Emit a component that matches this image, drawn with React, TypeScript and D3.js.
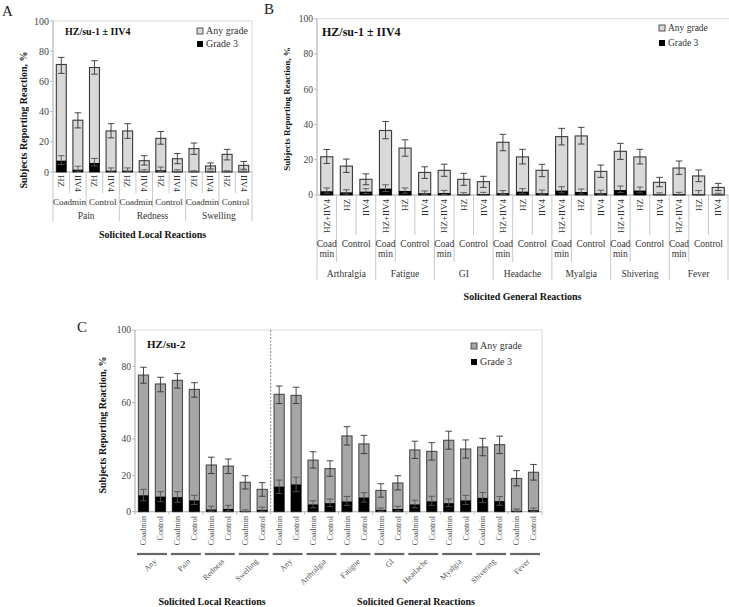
import React from "react";
import * as d3 from "d3";

const FONT = "Liberation Serif, Times New Roman, DejaVu Serif, serif";

// ---------- Panel A data (HZ/su-1 ± IIV4, local) ----------
const aCategories = ["Pain", "Redness", "Swelling"];
const aGroups = ["Coadmin", "Control"];
const aVaccines = ["HZ", "IIV4"];
const aAny = [71.2, 34.3, 69.2, 27.2, 27.2, 7.5, 22.3, 8.8, 15.5, 4.0, 11.7, 4.4];
const aAnyLo = [65.3, 29.2, 64.8, 22.6, 22.3, 4.6, 18.4, 5.5, 11.7, 2.0, 8.0, 1.8];
const aAnyHi = [75.9, 39.2, 73.7, 32.0, 32.0, 10.8, 26.8, 12.2, 19.2, 6.0, 15.0, 7.0];
const aG3 = [7.5, 1.5, 6.0, 0.9, 0.9, 0.3, 1.1, 0.3, 0.2, 0.1, 0.2, 0.1];
const aG3Lo = [5.0, 0.5, 4.0, 0.2, 0.2, 0.0, 0.3, 0.0, 0.0, 0.0, 0.0, 0.0];
const aG3Hi = [10.8, 3.8, 9.0, 2.7, 2.7, 1.5, 3.3, 1.5, 0.8, 0.6, 0.8, 0.6];

// ---------- Panel B data (HZ/su-1 ± IIV4, general) ----------
const bCategories = ["Arthralgia", "Fatigue", "GI", "Headache", "Myalgia", "Shivering", "Fever"];
const bVaccines = ["HZ+IIV4", "HZ", "IIV4"];
const bAny = [21.7, 16.4, 8.9, 36.6, 26.6, 12.8, 14.0, 8.9, 7.6, 29.9, 21.6, 14.0, 33.1, 33.5, 13.4, 24.8, 21.6, 7.2, 15.3, 10.8, 4.3];
const bAnyLo = [17.9, 12.8, 5.8, 31.9, 22.0, 9.4, 10.6, 5.5, 4.3, 25.1, 17.6, 10.4, 28.4, 28.9, 10.0, 20.2, 17.6, 4.7, 11.7, 7.6, 2.5];
const bAnyHi = [25.8, 20.4, 12.0, 41.7, 31.3, 16.0, 17.5, 12.3, 10.6, 34.4, 25.9, 17.4, 37.8, 38.4, 17.0, 29.3, 25.9, 10.0, 19.3, 14.2, 6.6];
const bG3 = [2.1, 1.5, 1.9, 3.6, 2.3, 1.0, 1.1, 0.3, 0.5, 1.0, 1.9, 1.0, 2.5, 1.7, 1.0, 2.8, 2.5, 0.3, 0.5, 0.3, 0.2];
const bG3Lo = [1.0, 0.5, 0.8, 2.0, 1.0, 0.2, 0.3, 0.0, 0.0, 0.2, 0.8, 0.2, 1.2, 0.6, 0.2, 1.4, 1.2, 0.0, 0.0, 0.0, 0.0];
const bG3Hi = [4.0, 3.0, 3.6, 5.8, 4.0, 2.3, 2.6, 1.3, 1.5, 2.5, 3.6, 2.8, 4.7, 3.4, 2.7, 5.1, 4.5, 1.2, 1.5, 2.5, 1.0];

// ---------- Panel C data (HZ/su-2) ----------
const cLocalCategories = ["Any", "Pain", "Redness", "Swelling"];
const cGeneralCategories = ["Any", "Arthralgia", "Fatigue", "GI", "Headache", "Myalgia", "Shivering", "Fever"];
const cGroups = ["Coadmin", "Control"];
const cAny = [75.2, 70.3, 72.3, 67.3, 25.7, 25.1, 16.2, 12.3, 64.6, 64.0, 28.4, 23.7, 41.7, 37.3, 11.7, 15.8, 34.0, 33.2, 39.3, 34.5, 35.6, 36.9, 18.3, 21.7];
const cAnyLo = [70.7, 66.0, 68.0, 63.0, 21.0, 21.0, 12.5, 8.5, 59.5, 59.5, 24.0, 19.5, 36.7, 32.0, 8.0, 12.0, 29.3, 28.4, 34.4, 29.5, 30.8, 32.0, 14.2, 17.4];
const cAnyHi = [79.5, 74.0, 76.0, 71.0, 30.0, 29.0, 19.8, 16.0, 69.2, 68.5, 33.0, 28.0, 46.8, 42.0, 15.4, 19.8, 38.8, 38.0, 44.3, 39.5, 40.4, 41.6, 22.6, 26.0];
const cG3 = [9.0, 8.3, 8.0, 6.2, 1.2, 1.5, 0.3, 1.0, 13.8, 15.0, 4.0, 4.7, 5.6, 7.8, 1.0, 1.5, 4.0, 5.7, 4.7, 6.2, 7.6, 5.8, 0.5, 0.8];
const cG3Lo = [6.0, 5.5, 5.2, 4.0, 0.3, 0.4, 0.0, 0.2, 10.0, 11.0, 2.2, 2.8, 3.5, 5.3, 0.2, 0.4, 2.2, 3.5, 2.8, 4.0, 5.0, 3.6, 0.0, 0.0];
const cG3Hi = [12.3, 11.0, 11.0, 9.0, 3.0, 3.5, 1.0, 2.5, 17.4, 19.0, 6.0, 7.0, 8.4, 10.5, 2.0, 3.0, 6.3, 8.5, 7.0, 9.0, 10.6, 8.3, 1.5, 2.0];

const yTicks = [0, 20, 40, 60, 80, 100];

type BarsProps = {
  x: d3.ScaleBand<number>;
  y: d3.ScaleLinear<number, number>;
  any: number[];
  anyLo: number[];
  anyHi: number[];
  g3: number[];
  g3Lo: number[];
  g3Hi: number[];
  fill: string;
  stroke: string;
};

function Bars({ x, y, any, anyLo, anyHi, g3, g3Lo, g3Hi, fill, stroke }: BarsProps) {
  const bw = x.bandwidth();
  const cap = 3.3;
  return (
    <g>
      {any.map((v, i) => {
        const x0 = x(i)!;
        const cx = x0 + bw / 2;
        return (
          <g key={i}>
            <rect x={x0} y={y(v)} width={bw} height={y(0) - y(v)} fill={fill} stroke={stroke} strokeWidth={1.1} />
            <rect x={x0} y={y(g3[i])} width={bw} height={y(0) - y(g3[i])} fill="#000" />
            <g stroke="#333" strokeWidth={0.9}>
              <line x1={cx} x2={cx} y1={y(anyHi[i])} y2={y(anyLo[i])} />
              <line x1={cx - cap} x2={cx + cap} y1={y(anyHi[i])} y2={y(anyHi[i])} />
              <line x1={cx - cap} x2={cx + cap} y1={y(anyLo[i])} y2={y(anyLo[i])} />
            </g>
            <g stroke="#555" strokeWidth={0.9}>
              <line x1={cx} x2={cx} y1={y(g3Hi[i])} y2={y(g3Lo[i])} />
              <line x1={cx - cap} x2={cx + cap} y1={y(g3Hi[i])} y2={y(g3Hi[i])} />
              <line x1={cx - cap} x2={cx + cap} y1={y(g3Lo[i])} y2={y(g3Lo[i])} />
            </g>
          </g>
        );
      })}
    </g>
  );
}

function YAxis({ y, x0, fontSize }: { y: d3.ScaleLinear<number, number>; x0: number; fontSize: number }) {
  return (
    <g>
      <line x1={x0} x2={x0} y1={y(100)} y2={y(0)} stroke="#bbb" strokeWidth={1} />
      {yTicks.map((t) => (
        <g key={t}>
          <line x1={x0 - 3} x2={x0} y1={y(t)} y2={y(t)} stroke="#bbb" />
          <text x={x0 - 4} y={y(t)} dy="0.35em" textAnchor="end" fontSize={fontSize} fill="#444">
            {t}
          </text>
        </g>
      ))}
    </g>
  );
}

function Legend({ x, y1, y2, anyFill, fontSize }: { x: number; y1: number; y2: number; anyFill: string; fontSize: number }) {
  return (
    <g fontSize={fontSize} fill="#333">
      <rect x={x} y={y1 - 6} width={6} height={6} fill={anyFill} stroke="#444" strokeWidth={0.9} />
      <text x={x + 9} y={y1}>Any grade</text>
      <rect x={x} y={y2 - 6} width={6} height={6} fill="#000" />
      <text x={x + 9} y={y2}>Grade 3</text>
    </g>
  );
}

function PanelA() {
  const left = 53, right = 252, top = 21, bottom = 172;
  const x = d3.scaleBand<number>().domain(d3.range(aAny.length)).range([left, right]).paddingInner(0.4).paddingOuter(0.2);
  const y = d3.scaleLinear().domain([0, 100]).range([bottom, top]);
  const step = x.step();
  const nPerCat = aGroups.length * aVaccines.length;
  const bounds = d3.range(aAny.length + 1);
  return (
    <g>
      <rect x={left} y={top} width={right - left} height={bottom - top} fill="none" stroke="#d9d9d9" />
      <line x1={left} x2={right} y1={bottom} y2={bottom} stroke="#bbb" />
      <YAxis y={y} x0={left} fontSize={10} />
      <text x={65} y={35} fontWeight="bold" fontSize={10} fill="#111">HZ/su-1 ± IIV4</text>
      <Legend x={197} y1={34} y2={47} anyFill="#d9d9d9" fontSize={10} />
      <Bars x={x} y={y} any={aAny} anyLo={aAnyLo} anyHi={aAnyHi} g3={aG3} g3Lo={aG3Lo} g3Hi={aG3Hi} fill="#d9d9d9" stroke="#3a3a3a" />
      {bounds.map((i) => {
        const bx = left + i * step;
        const y2 = i % nPerCat === 0 ? 221 : i % aVaccines.length === 0 ? 207 : 193;
        return <line key={i} x1={bx} x2={bx} y1={bottom} y2={y2} stroke="#c8c8c8" />;
      })}
      {aAny.map((_, i) => {
        const cx = x(i)! + x.bandwidth() / 2;
        return (
          <text key={i} transform={`translate(${cx},175) rotate(90)`} dy="0.35em" fontSize={9} fill="#333">
            {aVaccines[i % aVaccines.length]}
          </text>
        );
      })}
      {d3.range(aCategories.length * aGroups.length).map((g) => {
        const cx = left + (g * 2 + 1) * step;
        return (
          <text key={g} x={cx} y={205} textAnchor="middle" fontSize={9} fill="#333">
            {aGroups[g % aGroups.length]}
          </text>
        );
      })}
      {aCategories.map((c, k) => (
        <text key={c} x={left + (k * nPerCat + nPerCat / 2) * step} y={218.5} textAnchor="middle" fontSize={9.5} fill="#333">
          {c}
        </text>
      ))}
      <text x={(left + right) / 2} y={238} textAnchor="middle" fontWeight="bold" fontSize={10} fill="#111">
        Solicited Local Reactions
      </text>
      <text transform={`translate(27,120) rotate(-90)`} textAnchor="middle" fontWeight="bold" fontSize={10} fill="#111">
        Subjects Reporting Reaction, %
      </text>
      <text x={2} y={16} fontSize={15} fill="#222">A</text>
    </g>
  );
}

function PanelB() {
  const left = 317, right = 728, top = 18.7, bottom = 195;
  const x = d3.scaleBand<number>().domain(d3.range(bAny.length)).range([left, right]).paddingInner(0.38).paddingOuter(0.19);
  const y = d3.scaleLinear().domain([0, 100]).range([bottom, top]);
  const step = x.step();
  const n = bVaccines.length;
  return (
    <g>
      <rect x={left} y={top} width={right - left + 5} height={bottom - top} fill="none" stroke="#d9d9d9" />
      <line x1={left} x2={right} y1={bottom} y2={bottom} stroke="#bbb" />
      <YAxis y={y} x0={left} fontSize={9.5} />
      <text x={322} y={36} fontWeight="bold" fontSize={12} fill="#111">HZ/su-1 ± IIV4</text>
      <Legend x={659} y1={31} y2={46} anyFill="#d9d9d9" fontSize={9.5} />
      <Bars x={x} y={y} any={bAny} anyLo={bAnyLo} anyHi={bAnyHi} g3={bG3} g3Lo={bG3Lo} g3Hi={bG3Hi} fill="#d9d9d9" stroke="#3a3a3a" />
      {d3.range(bAny.length + 1).map((i) => {
        const bx = left + i * step;
        const y2 = i % n === 0 ? 280 : i % n === 1 ? 262 : 235;
        return <line key={i} x1={bx} x2={bx} y1={bottom} y2={y2} stroke="#c8c8c8" />;
      })}
      {bAny.map((_, i) => {
        const cx = x(i)! + x.bandwidth() / 2;
        return (
          <text key={i} transform={`translate(${cx},199) rotate(-90)`} dy="0.35em" textAnchor="end" fontSize={9} fill="#333">
            {bVaccines[i % n]}
          </text>
        );
      })}
      {bCategories.map((c, k) => {
        const coX = left + (k * n + 0.5) * step;
        const ctX = left + (k * n + 2) * step;
        return (
          <g key={c} fontSize={9.5} fill="#333" textAnchor="middle">
            <text x={coX} y={247}>Coad</text>
            <text x={coX} y={257}>min</text>
            <text x={ctX} y={247}>Control</text>
            <text x={left + (k * n + n / 2) * step} y={277}>{c}</text>
          </g>
        );
      })}
      <text x={(left + right) / 2} y={300} textAnchor="middle" fontWeight="bold" fontSize={10} fill="#111">
        Solicited General Reactions
      </text>
      <text transform={`translate(290,109) rotate(-90)`} textAnchor="middle" fontWeight="bold" fontSize={9} fill="#111">
        Subjects Reporting Reaction, %
      </text>
      <text x={264} y={14} fontSize={15} fill="#222">B</text>
    </g>
  );
}

function PanelC() {
  const left = 135, right = 542, top = 330, bottom = 511.7;
  const x = d3.scaleBand<number>().domain(d3.range(cAny.length)).range([left, right]).paddingInner(0.4).paddingOuter(0.2);
  const y = d3.scaleLinear().domain([0, 100]).range([bottom, top]);
  const step = x.step();
  const cats = [...cLocalCategories, ...cGeneralCategories];
  const divX = left + cLocalCategories.length * 2 * step;
  return (
    <g>
      <rect x={left} y={top} width={right - left} height={bottom - top} fill="none" stroke="#d9d9d9" />
      <line x1={left} x2={right} y1={bottom} y2={bottom} stroke="#bbb" />
      {d3.range(cats.length + 1).map((k) => (
        <line key={k} x1={left + k * 2 * step} x2={left + k * 2 * step} y1={bottom} y2={bottom + 3} stroke="#bbb" />
      ))}
      <YAxis y={y} x0={left} fontSize={9.5} />
      <line x1={divX} x2={divX} y1={top} y2={bottom} stroke="#888" strokeDasharray="2,1.5" />
      <text x={147} y={348} fontWeight="bold" fontSize={11} fill="#111">HZ/su-2</text>
      <Legend x={471} y1={349} y2={365} anyFill="#a6a6a6" fontSize={10} />
      <Bars x={x} y={y} any={cAny} anyLo={cAnyLo} anyHi={cAnyHi} g3={cG3} g3Lo={cG3Lo} g3Hi={cG3Hi} fill="#a6a6a6" stroke="#4d4d4d" />
      {cAny.map((_, i) => {
        const cx = x(i)! + x.bandwidth() / 2;
        return (
          <text key={i} transform={`translate(${cx},516) rotate(-90)`} dy="0.35em" textAnchor="end" fontSize={8} fill="#555">
            {cGroups[i % 2]}
          </text>
        );
      })}
      {cats.map((c, k) => {
        const x0 = left + k * 2 * step;
        const x1 = x0 + 2 * step;
        const mid = (x0 + x1) / 2;
        return (
          <g key={k}>
            <line x1={x0 + 2} x2={x1 - 2} y1={554} y2={554} stroke="#666" strokeWidth={2.2} />
            <text transform={`translate(${mid + 5},562) rotate(-45)`} textAnchor="end" fontSize={8} fill="#555">
              {c}
            </text>
          </g>
        );
      })}
      <text x={212} y={605} textAnchor="middle" fontWeight="bold" fontSize={10} fill="#111">
        Solicited Local Reactions
      </text>
      <text x={416} y={605} textAnchor="middle" fontWeight="bold" fontSize={10} fill="#111">
        Solicited General Reactions
      </text>
      <text transform={`translate(106,425) rotate(-90)`} textAnchor="middle" fontWeight="bold" fontSize={10} fill="#111">
        Subjects Reporting Reaction, %
      </text>
      <text x={77} y={332} fontSize={15} fill="#222">C</text>
    </g>
  );
}

export default function App() {
  return (
    <svg
      width={729}
      height={607}
      style={{ position: "absolute", left: 0, top: 0, background: "#fff", fontFamily: FONT }}
    >
      <rect x={0} y={0} width={729} height={607} fill="#fff" />
      <PanelA />
      <PanelB />
      <PanelC />
    </svg>
  );
}
